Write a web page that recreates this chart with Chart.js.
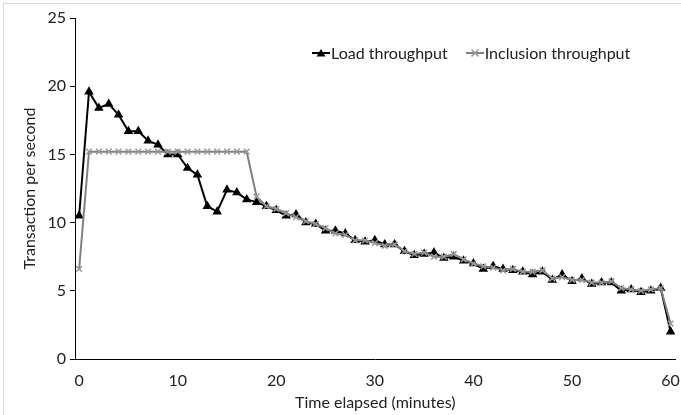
<!DOCTYPE html>
<html>
<head>
<meta charset="utf-8">
<script src="https://cdn.jsdelivr.net/npm/chart.js@4/dist/chart.umd.min.js"></script>
<style>
  html, body { margin: 0; padding: 0; background: #fff; }
  #wrap { position: relative; width: 681px; height: 415px; }
  #frame { position: absolute; left: 3px; top: 3px; right: -5px; bottom: -5px; border: 1px solid #d9d9d9; }
  #legend { position: absolute; left: 312px; top: 43px; font: 16px Lato, sans-serif; color: #222; display: flex; align-items: center; }
  #legend span.item { display: flex; align-items: center; margin-right: 18px; }
  #legend svg { margin-right: 1px; }
</style>
</head>
<body>
<div id="wrap">
  <div id="frame"></div>
  <canvas id="chart" width="681" height="415"></canvas>
  <div id="legend"></div>
</div>
<script>
// minutes 0..60
const minutes = [0,1,2,3,4,5,6,7,8,9,10,11,12,13,14,15,16,17,18,19,20,21,22,23,24,25,26,27,28,29,30,
  31,32,33,34,35,36,37,38,39,40,41,42,43,44,45,46,47,48,49,50,51,52,53,54,55,56,57,58,59,60];

const loadThroughput = [10.5,19.6,18.4,18.7,17.9,16.7,16.7,16.0,15.7,15.0,15.0,14.0,13.5,11.2,10.8,12.4,12.2,11.7,11.5,11.2,10.9,
  10.5,10.6,10.0,9.9,9.4,9.4,9.2,8.7,8.6,8.7,8.4,8.4,7.9,7.6,7.7,7.8,7.4,7.5,7.2,7.0,
  6.6,6.8,6.6,6.5,6.4,6.2,6.4,5.8,6.2,5.7,5.9,5.5,5.6,5.6,5.0,5.1,4.9,5.0,5.2,2.0];

const inclusionThroughput = [6.6,15.2,15.2,15.2,15.2,15.2,15.2,15.2,15.2,15.2,15.2,15.2,15.2,15.2,15.2,15.2,15.2,15.2,11.9,11.2,11.0,
  10.7,10.4,10.1,9.9,9.6,9.2,9.1,8.7,8.7,8.5,8.3,8.4,7.9,7.7,7.8,7.5,7.5,7.7,7.3,7.0,
  6.8,6.7,6.5,6.6,6.4,6.4,6.5,5.9,6.0,5.8,5.8,5.6,5.6,5.7,5.2,5.1,5.0,5.1,5.2,2.6];

const xTicks = [0,10,20,30,40,50,60];
const yTicks = [0,5,10,15,20,25];

const FONT = 'Lato, sans-serif';
const TXT = '#222';

const series = [
  { label: 'Load throughput', values: loadThroughput, line: '#000', marker: 'triangle', mfill: '#000', mline: '#000', order: 1 },
  { label: 'Inclusion throughput', values: inclusionThroughput, line: '#808080', marker: 'crossRot', mfill: '#999', mline: '#999', order: 0 }
];

new Chart(document.getElementById('chart'), {
  type: 'line',
  data: {
    datasets: series.map(s => ({
      label: s.label,
      data: minutes.map((m, i) => ({ x: m, y: s.values[i] })),
      borderColor: s.line,
      borderWidth: 2,
      pointStyle: s.marker,
      pointRadius: 4,
      pointBackgroundColor: s.mfill,
      pointBorderColor: s.mline,
      pointBorderWidth: 1.5,
      tension: 0,
      order: s.order
    }))
  },
  options: {
    responsive: false,
    animation: false,
    events: [],
    layout: { padding: { top: 18, right: 1, left: 0, bottom: 0 } },
    plugins: { legend: { display: false }, tooltip: { enabled: false } },
    scales: {
      x: {
        type: 'linear',
        min: -0.42, max: 60.5,
        afterBuildTicks: ax => { ax.ticks = xTicks.map(v => ({ value: v })); },
        afterFit: ax => { ax.height = 56; ax.paddingLeft = 0; ax.paddingRight = 0; },
        grid: { display: false, drawTicks: false },
        border: { display: true, color: '#000', width: 1 },
        ticks: { color: TXT, font: { family: FONT, size: 16 }, padding: 12, maxRotation: 0 },
        title: { display: true, text: 'Time elapsed (minutes)', color: TXT, font: { family: FONT, size: 16 }, padding: { bottom: 3 } }
      },
      y: {
        min: 0, max: 25,
        afterBuildTicks: ax => { ax.ticks = yTicks.map(v => ({ value: v })); },
        afterFit: ax => { ax.width = 75; ax.paddingTop = 0; ax.paddingBottom = 0; },
        grid: { drawOnChartArea: false, drawTicks: true, tickLength: 5, color: '#000' },
        border: { display: true, color: '#000', width: 1 },
        ticks: { color: TXT, font: { family: FONT, size: 16 }, padding: 4 },
        title: { display: true, text: 'Transaction per second', color: TXT, font: { family: FONT, size: 16 }, padding: { top: 20 } }
      }
    }
  }
});

// legend in the plot area, like the spreadsheet one
function markerSvg(s) {
  const shape = s.marker === 'triangle'
    ? '<polygon points="9,1 13.5,8.5 4.5,8.5" fill="' + s.mfill + '"/>'
    : '<path d="M5.5,1.5 L12.5,8.5 M12.5,1.5 L5.5,8.5" stroke="' + s.mline + '" stroke-width="1.5"/>';
  return '<svg width="18" height="10"><line x1="0" y1="5" x2="18" y2="5" stroke="' + s.line + '" stroke-width="2"/>' + shape + '</svg>';
}
document.getElementById('legend').innerHTML = series.map(s =>
  '<span class="item">' + markerSvg(s) + '<span>' + s.label + '</span></span>').join('');
</script>
</body>
</html>
